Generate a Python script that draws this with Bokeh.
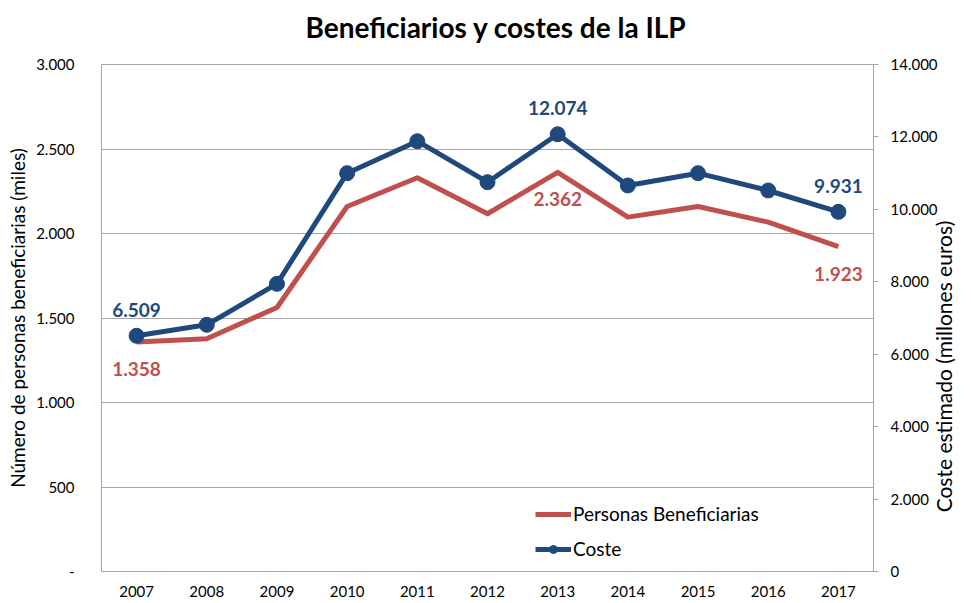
import math
from bokeh.plotting import figure
from bokeh.models import Range1d, LinearAxis, FixedTicker, Legend, LegendItem, Title
from bokeh.core.properties import value
from bokeh.embed import file_html
from bokeh.resources import INLINE

# ---- data ----
years = ["2007", "2008", "2009", "2010", "2011", "2012", "2013", "2014", "2015", "2016", "2017"]
beneficiarios = [1358, 1377, 1562, 2160, 2330, 2117, 2362, 2097, 2160, 2067, 1923]   # miles
coste = [6509, 6812, 7944, 10999, 11882, 10750, 12074, 10659, 10999, 10521, 9931]    # millones euros

left_ticks = [0, 500, 1000, 1500, 2000, 2500, 3000]
left_tick_labels = ["-", "500", "1.000", "1.500", "2.000", "2.500", "3.000"]
right_ticks = [0, 2000, 4000, 6000, 8000, 10000, 12000, 14000]
right_tick_labels = ["0", "2.000", "4.000", "6.000", "8.000", "10.000", "12.000", "14.000"]

label_years = ["2007", "2013", "2017"]

title_text = "Beneficiarios y costes de la ILP"
left_label = "Número de personas beneficiarias (miles)"
right_label = "Coste estimado (millones euros)"
series_names = ["Personas Beneficiarias", "Coste"]

# ---- styles ----
FONT = "Lato"
RED = "#C0504D"
BLUE = "#1F497D"
GRID = "#A6A6A6"


def fmt(v):
    return f"{v:,}".replace(",", ".")


p = figure(width=971, height=603, x_range=years, y_range=Range1d(0, 3000),
           output_backend="svg", toolbar_location=None,
           min_border_left=101, min_border_right=98, min_border_top=64, min_border_bottom=32)
p.extra_y_ranges = {"cost": Range1d(0, 14000)}

p.title.text = title_text
p.title.text_font = FONT
p.title.text_font_style = "bold"
p.title.text_font_size = "28px"
p.title.text_color = "black"
p.title.align = "left"
p.title.offset = 204
p.title.vertical_align = "bottom"
p.title.standoff = 0
# small spacer between the title and the plot frame
p.add_layout(Title(text=" ", text_font_size="2px", standoff=17), "above")

p.outline_line_color = GRID
p.outline_line_width = 1
p.background_fill_color = "white"
p.border_fill_color = "white"

# grid
p.xgrid.grid_line_color = None
p.ygrid.grid_line_color = GRID
p.ygrid.grid_line_width = 1
p.ygrid.ticker = FixedTicker(ticks=left_ticks)

# x axis
xa = p.xaxis[0]
xa.axis_line_color = None
xa.major_tick_line_color = None
xa.major_tick_out = 0
xa.major_tick_in = 0
xa.minor_tick_line_color = None
xa.major_label_text_font = FONT
xa.major_label_text_font_size = "15px"
xa.major_label_text_color = "black"
xa.major_label_standoff = 14

# left axis
ya = p.yaxis[0]
ya.ticker = FixedTicker(ticks=left_ticks)
ya.major_label_overrides = {t: l for t, l in zip(left_ticks, left_tick_labels)}
ya.axis_line_color = None
ya.major_tick_line_color = None
ya.major_tick_out = 0
ya.major_tick_in = 0
ya.minor_tick_line_color = None
ya.major_label_text_font = FONT
ya.major_label_text_font_size = "15px"
ya.major_label_text_color = "black"
ya.major_label_standoff = 27
ya.axis_label = left_label
ya.axis_label_text_font = FONT
ya.axis_label_text_font_size = "19px"
ya.axis_label_text_font_style = "normal"
ya.axis_label_text_color = "black"
ya.axis_label_standoff = 4

# right axis
ra = LinearAxis(y_range_name="cost", ticker=FixedTicker(ticks=right_ticks))
ra.major_label_overrides = {t: l for t, l in zip(right_ticks, right_tick_labels)}
ra.axis_line_color = GRID
ra.major_tick_line_color = GRID
ra.major_tick_in = 0
ra.major_tick_out = 5
ra.minor_tick_line_color = None
ra.major_label_text_font = FONT
ra.major_label_text_font_size = "15px"
ra.major_label_text_color = "black"
ra.major_label_standoff = 12
ra.axis_label = "\u00a0" * 11 + right_label
ra.axis_label_orientation = math.pi / 2
if "axis_label_align" in ra.properties():
    ra.axis_label_align = "start"
ra.axis_label_text_font = FONT
ra.axis_label_text_font_size = "21px"
ra.axis_label_text_font_style = "normal"
ra.axis_label_text_color = "black"
ra.axis_label_standoff = 3
p.add_layout(ra, "right")

# series
r_red = p.line(years, beneficiarios, line_color=RED, line_width=5, line_join="round")
r_blue = p.line(years, coste, line_color=BLUE, line_width=5, line_join="round", y_range_name="cost")
r_pts = p.scatter(years, coste, size=15, fill_color=BLUE, line_color=BLUE, y_range_name="cost")

# data labels
red_lab_vals = [beneficiarios[years.index(y)] for y in label_years]
blue_lab_vals = [coste[years.index(y)] for y in label_years]
p.text(x=label_years, y=red_lab_vals, text=[fmt(v) for v in red_lab_vals],
       y_offset=27, text_align="center", text_baseline="middle",
       text_font=value(FONT), text_font_style="bold", text_font_size="19px", text_color=RED)
p.text(x=label_years, y=blue_lab_vals, text=[fmt(v) for v in blue_lab_vals],
       y_offset=-26, text_align="center", text_baseline="middle", y_range_name="cost",
       text_font=value(FONT), text_font_style="bold", text_font_size="19px", text_color=BLUE)

legend = Legend(items=[LegendItem(label=series_names[0], renderers=[r_red]),
                       LegendItem(label=series_names[1], renderers=[r_blue, r_pts])],
                location=(434, 11), orientation="vertical",
                padding=0, margin=0, spacing=12, glyph_width=36, glyph_height=20,
                label_height=20, label_standoff=2,
                label_text_font=FONT, label_text_font_size="19px", label_text_color="black",
                border_line_color=None, background_fill_alpha=0)
p.add_layout(legend)

open("out.html", "w").write(file_html(p, INLINE))
